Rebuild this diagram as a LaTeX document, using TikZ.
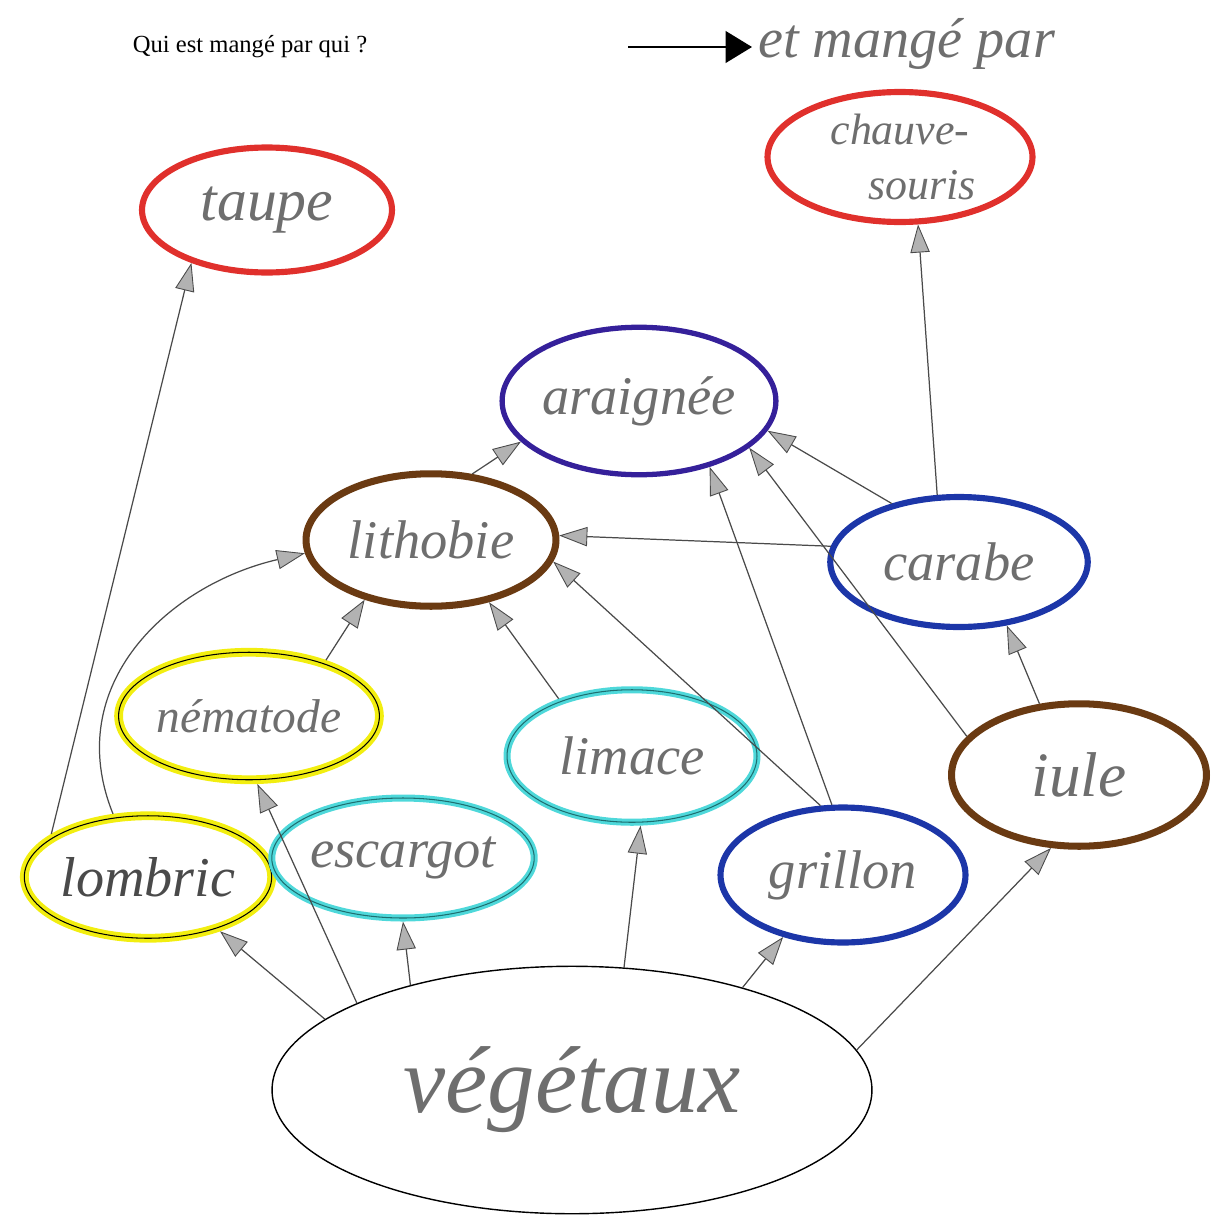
\documentclass[tikz,border=0pt]{standalone}
\usepackage{fontspec}
\setmainfont{Liberation Serif}
\usetikzlibrary{shapes.geometric,arrows.meta}

\definecolor{pencil}{HTML}{6E6E6E}
\definecolor{lead}{HTML}{4A4A4A}
\definecolor{redpen}{HTML}{E0302C}
\definecolor{indigopen}{HTML}{35209A}
\definecolor{brownpen}{HTML}{6A3A12}
\definecolor{bluepen}{HTML}{1C36A8}
\definecolor{yellowpen}{HTML}{F2EE10}
\definecolor{cyanpen}{HTML}{4ED8DA}
\definecolor{tealline}{HTML}{1E6E70}

\newcommand{\hand}[1]{\fontsize{#1}{#1}\selectfont\itshape}

\begin{document}
\begin{tikzpicture}[x=0.02cm,y=-0.02cm]
      \useasboundingbox (0,0) rectangle (1211,1217);
      % header and legend
      \node[font=\fontsize{14}{16}\selectfont] (title) at (250,47) {Qui est mangé par qui ?};
      \coordinate (legfrom) at (628,47);
      \node[anchor=west,text=pencil,font=\hand{32}] (legtext) at (752,44) {et mangé par};
      \draw[line width=1.2pt,-{Triangle[length=15pt,width=18pt]}] (legfrom) -- (legtext.west |- legfrom);
      \begin{scope}[every node/.style={ellipse,inner sep=0pt,align=center,text=pencil,font=\hand{31}}]
        \node[draw=redpen,line width=3.5pt,minimum width=5cm,minimum height=2.5cm,font=\hand{34}] (taupe) at (267,210) {taupe};
        \node[draw=redpen,line width=3.5pt,minimum width=5.3cm,minimum height=2.6cm,font=\hand{25}] (chauve) at (900,157) {chauve-\\[6pt]\quad souris};
        \node[draw=indigopen,line width=3pt,minimum width=5.15cm,minimum height=2.95cm] (araignee) at (639,401) {araignée};
        \node[draw=brownpen,line width=4pt,minimum width=5cm,minimum height=2.65cm] (lithobie) at (431,540) {lithobie};
        \node[draw=bluepen,line width=3.5pt,minimum width=5.15cm,minimum height=2.6cm] (carabe) at (959,562) {carabe};
        \node[draw=yellowpen,line width=5pt,postaction={draw=black,line width=0.6pt},minimum width=4.95cm,minimum height=2.55cm,font=\hand{27}] (nematode) at (249,716) {nématode};
        \node[draw=cyanpen,line width=4pt,postaction={draw=tealline,line width=0.6pt},minimum width=5cm,minimum height=2.65cm] (limace) at (632,756) {limace};
        \node[draw=brownpen,line width=4pt,minimum width=5.1cm,minimum height=2.85cm,font=\hand{36}] (iule) at (1079,775) {iule};
        \node[draw=yellowpen,line width=5pt,postaction={draw=black,line width=0.6pt},minimum width=4.7cm,minimum height=2.45cm,text=lead,font=\hand{32}] (lombric) at (148,877) {lombric};
        \node[draw=cyanpen,line width=4pt,postaction={draw=tealline,line width=0.6pt},minimum width=4.95cm,minimum height=2.4cm] (escargot) at (403,858) {escargot};
        \node[draw=bluepen,line width=3.5pt,minimum width=4.9cm,minimum height=2.7cm] (grillon) at (843,875) {grillon};
        \node[draw=black,line width=0.8pt,minimum width=12cm,minimum height=4.95cm,font=\hand{54}] (vegetaux) at (572,1090) {végétaux};
      \end{scope}
      \begin{scope}[every edge/.style={draw=lead,line width=0.7pt,-{Triangle[length=16pt,width=11pt,fill=gray!60,color=lead,line width=0.5pt]}}]
        \path (lombric.156) edge (taupe.215);
        \path (lombric.119) edge[out=112,in=193,looseness=1.1] (lithobie.186);
        \path (nematode.36) edge (lithobie.222);
        \path (limace.142) edge (lithobie.313);
        \path (grillon.108) edge (lithobie.350);
        \path (carabe.173) edge (lithobie.2);
        \path (lithobie.58) edge (araignee.199);
        \path (grillon.99) edge (araignee.317);
        \path (iule.161) edge (araignee.337);
        \path (carabe.139) edge (araignee.347);
        \path (carabe.108) edge (chauve.285);
        \path (iule.119) edge (carabe.307);
        \path (vegetaux.164) edge (lombric.323);
        \path (vegetaux.158) edge (nematode.277);
        \path (vegetaux.147) edge (escargot.270);
        \path (vegetaux.67) edge (limace.277);
        \path (vegetaux.31) edge (grillon.226);
        \path (vegetaux.8) edge (iule.249);
      \end{scope}
\end{tikzpicture}
\end{document}
